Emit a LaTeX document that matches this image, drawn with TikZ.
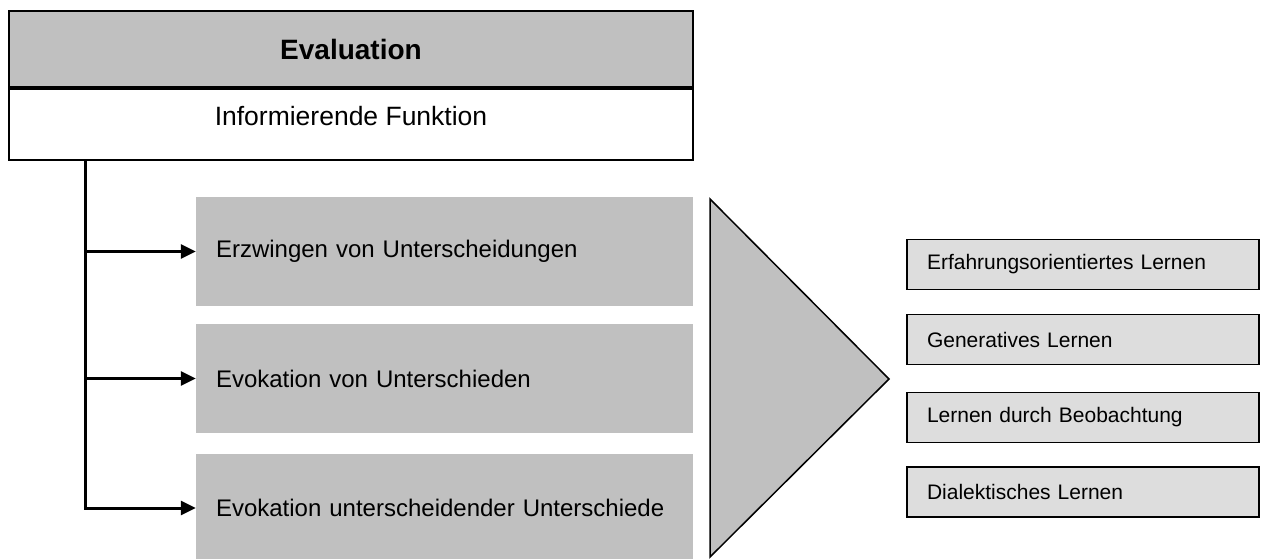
\documentclass[tikz,border=0pt]{standalone}
\usepackage{fontspec}
\setmainfont{Liberation Sans}
\usetikzlibrary{arrows.meta}
\definecolor{midgray}{HTML}{C0C0C0}
\definecolor{palegray}{HTML}{DDDDDD}

\begin{document}
\begin{tikzpicture}[x=1pt, y=-1pt,
    head/.style={draw, line width=2pt, fill=midgray, inner sep=0pt,
      minimum width=684pt, minimum height=76pt, font=\fontsize{28}{32}\selectfont\bfseries},
    info/.style={draw, line width=2pt, fill=white, inner sep=0pt, text depth=17pt,
      minimum width=684pt, minimum height=71pt, font=\fontsize{26.5}{30}\selectfont},
    grund/.style={fill=midgray, inner xsep=20pt, inner ysep=0pt, text width=457pt, align=left,
      minimum height=109pt, font=\fontsize{24}{28}\selectfont},
    lernen/.style={draw, line width=1.5pt, fill=palegray, inner xsep=20pt, inner ysep=0pt,
      text width=312pt, align=left, minimum height=50pt, font=\fontsize{21}{25}\selectfont},
    link/.style={line width=3pt, -{Triangle[length=15pt, width=14pt]}}]
  \useasboundingbox (0,0) rectangle (1263,559);

  \node[head] (eval) at (351,49) {Evaluation};
  \node[info, anchor=north] (funk) at (eval.south) {Informierende Funktion};

  \node[grund] (u1) at (444.5,251.5) {Erzwingen von Unterscheidungen};
  \node[grund] (u2) at (444.5,378.5) {Evokation von Unterschieden};
  \node[grund] (u3) at (444.5,508) {Evokation unterscheidender Unterschiede};

  % trunk from the function box down to the three arrows
  \coordinate (trunk) at ([xshift=77pt]funk.south west);
  \draw[link] (trunk) |- (u3.west);
  \foreach \n in {u1,u2} { \draw[link] (trunk |- \n.west) -- (\n.west); }

  \draw[line width=1.5pt, fill=midgray] (710,199) -- (710,557) -- (889,379) -- cycle;

  \foreach \y/\t [count=\i] in {264.5/Erfahrungsorientiertes Lernen, 339.5/Generatives Lernen,
      417.5/Lernen durch Beobachtung, 492/Dialektisches Lernen}
    { \node[lernen] (l\i) at (1083,\y) {\t}; }
\end{tikzpicture}
\end{document}
